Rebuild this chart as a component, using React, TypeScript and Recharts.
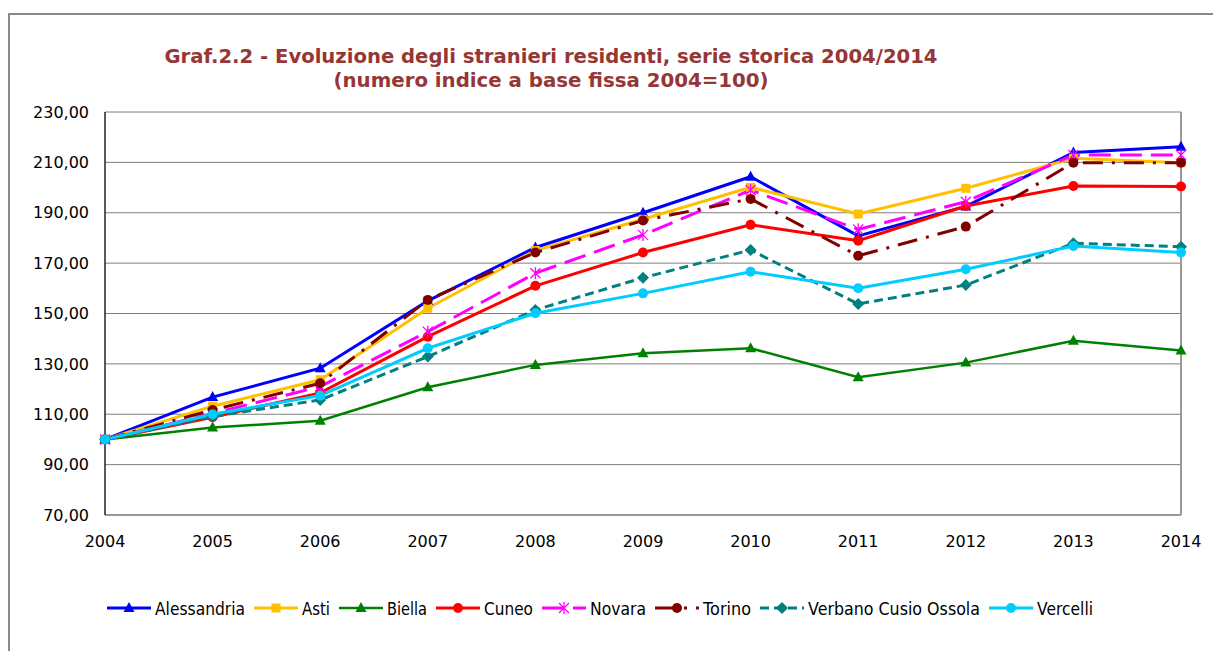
import React from 'react';
import { CartesianGrid, Line, LineChart, ReferenceLine, XAxis, YAxis } from 'recharts';

const years = ['2004', '2005', '2006', '2007', '2008', '2009', '2010', '2011', '2012', '2013', '2014'];

const alessandria = [100, 116.8, 128.3, 155.0, 176.2, 190.0, 204.3, 180.8, 192.5, 213.9, 216.2];
const asti = [100, 113.2, 123.7, 152.1, 175.0, 187.4, 200.1, 189.5, 199.7, 211.6, 209.9];
const biella = [100, 104.7, 107.4, 120.7, 129.6, 134.2, 136.2, 124.7, 130.5, 139.2, 135.3];
const cuneo = [100, 108.8, 118.5, 140.8, 161.0, 174.2, 185.2, 178.9, 192.7, 200.6, 200.4];
const novara = [100, 110.3, 121.0, 142.8, 166.0, 181.2, 199.0, 183.4, 194.4, 212.9, 212.9];
const torino = [100, 111.7, 122.3, 155.4, 174.2, 186.9, 195.5, 172.9, 184.5, 209.9, 209.9];
const verbano = [100, 109.1, 115.7, 132.9, 151.4, 164.2, 175.2, 153.8, 161.3, 177.9, 176.5];
const vercelli = [100, 110.0, 117.4, 136.2, 150.1, 158.0, 166.6, 160.0, 167.6, 176.8, 174.2];

const yTicks = [70, 90, 110, 130, 150, 170, 190, 210, 230];

const titleLines = [
  'Graf.2.2 - Evoluzione degli stranieri residenti, serie storica 2004/2014',
  '(numero indice a base fissa 2004=100)',
];

type Shape = 'triangle' | 'square' | 'circle' | 'diamond' | 'star';

interface SeriesStyle {
  key: string;
  name: string;
  values: number[];
  color: string;
  width: number;
  dash?: string;
  shape: Shape;
  legendWidth: number;
}

const series: SeriesStyle[] = [
  { key: 'alessandria', name: 'Alessandria', values: alessandria, color: '#0000FF', width: 3, shape: 'triangle', legendWidth: 90 },
  { key: 'asti', name: 'Asti', values: asti, color: '#FFC000', width: 3, shape: 'square', legendWidth: 28 },
  { key: 'biella', name: 'Biella', values: biella, color: '#008000', width: 2.5, shape: 'triangle', legendWidth: 40 },
  { key: 'cuneo', name: 'Cuneo', values: cuneo, color: '#FF0000', width: 3, shape: 'circle', legendWidth: 49 },
  { key: 'novara', name: 'Novara', values: novara, color: '#FF00FF', width: 3, dash: '22 9', shape: 'star', legendWidth: 56 },
  { key: 'torino', name: 'Torino', values: torino, color: '#800000', width: 3, dash: '20 9 3 9', shape: 'circle', legendWidth: 48 },
  { key: 'verbano', name: 'Verbano Cusio Ossola', values: verbano, color: '#008080', width: 3, dash: '9 5', shape: 'diamond', legendWidth: 172 },
  { key: 'vercelli', name: 'Vercelli', values: vercelli, color: '#00CCFF', width: 3, shape: 'circle', legendWidth: 56 },
];

const data = years.map((year, i) => {
  const row: Record<string, string | number> = { year };
  series.forEach((s) => {
    row[s.key] = s.values[i];
  });
  return row;
});

const marker = (shape: Shape, color: string, cx: number, cy: number, key?: string): React.ReactElement => {
  switch (shape) {
    case 'triangle':
      return <polygon key={key} points={`${cx},${cy - 6} ${cx - 5.5},${cy + 4} ${cx + 5.5},${cy + 4}`} fill={color} />;
    case 'square':
      return <rect key={key} x={cx - 4.5} y={cy - 4.5} width={9} height={9} fill={color} />;
    case 'diamond':
      return <polygon key={key} points={`${cx},${cy - 6} ${cx + 6},${cy} ${cx},${cy + 6} ${cx - 6},${cy}`} fill={color} />;
    case 'star':
      return (
        <g key={key} stroke={color} strokeWidth={1.3}>
          <line x1={cx - 5} y1={cy - 5} x2={cx + 5} y2={cy + 5} />
          <line x1={cx - 5} y1={cy + 5} x2={cx + 5} y2={cy - 5} />
          <line x1={cx} y1={cy - 6} x2={cx} y2={cy + 6} />
        </g>
      );
    default:
      return <circle key={key} cx={cx} cy={cy} r={5} fill={color} />;
  }
};

const fmt = (v: number) => v.toFixed(2).replace('.', ',');

const font = "'DejaVu Sans', Verdana, sans-serif";

// legend layout: icon, gap, label, gap
const legendStart = 99;
const iconW = 44;
const legendItems = (() => {
  let x = legendStart;
  return series.map((s) => {
    const item = { s, x };
    x += iconW + 4 + s.legendWidth + 9;
    return item;
  });
})();

const App = (): React.ReactElement => {
  return (
    <div style={{ position: 'relative', width: 1213, height: 643 }}>
      <div
        style={{
          position: 'absolute',
          left: 0,
          top: 5,
          width: 1213,
          height: 638,
          borderLeft: '2px solid #898989',
          borderTop: '2px solid #898989',
          boxSizing: 'border-box',
        }}
      />
      <div style={{ position: 'absolute', left: 0, top: 0 }}>
        <LineChart width={1213} height={643} data={data} margin={{ top: 104, right: 40, left: 0, bottom: 106 }}>
          <CartesianGrid vertical={false} stroke="#7f7f7f" strokeWidth={1} />
          <XAxis
            dataKey="year"
            height={30}
            axisLine={{ stroke: '#8c8c8c', strokeWidth: 1.5 }}
            tickLine={false}
            tickSize={6}
            tickMargin={15}
            interval={0}
            tick={{ fill: '#000', fontSize: 16, fontFamily: font }}
          />
          <YAxis
            width={97}
            domain={[70, 230]}
            ticks={yTicks}
            interval={0}
            tickFormatter={fmt}
            axisLine={{ stroke: '#000', strokeWidth: 1.3 }}
            tickLine={false}
            tickSize={6}
            tickMargin={10}
            tick={{ fill: '#000', fontSize: 16, fontFamily: font }}
          />
          <ReferenceLine x="2014" stroke="#9a9a9a" strokeWidth={2} />
          {series.map((s) => (
            <Line
              key={s.key}
              type="linear"
              dataKey={s.key}
              name={s.name}
              stroke={s.color}
              strokeWidth={s.width}
              strokeDasharray={s.dash}
              dot={(p: { cx: number; cy: number; index: number }) => marker(s.shape, s.color, p.cx, p.cy, `${s.key}-${p.index}`)}
              activeDot={false}
              isAnimationActive={false}
            />
          ))}
        </LineChart>
      </div>
      <svg width={1213} height={643} style={{ position: 'absolute', left: 0, top: 0, pointerEvents: 'none' }}>
        <text
          x={543}
          y={55}
          textAnchor="middle"
          fill="#953735"
          fontFamily={font}
          fontWeight="bold"
          fontSize={19}
          textLength={773}
          lengthAdjust="spacingAndGlyphs"
        >
          {titleLines[0]}
        </text>
        <text
          x={543}
          y={79}
          textAnchor="middle"
          fill="#953735"
          fontFamily={font}
          fontWeight="bold"
          fontSize={19}
          textLength={435}
          lengthAdjust="spacingAndGlyphs"
        >
          {titleLines[1]}
        </text>
        {legendItems.map(({ s, x }) => (
          <g key={s.key}>
            <line x1={x} y1={600} x2={x + iconW} y2={600} stroke={s.color} strokeWidth={s.width} strokeDasharray={s.dash} />
            {marker(s.shape, s.color, x + iconW / 2, 600)}
            <text
              x={x + iconW + 4}
              y={607}
              fill="#000"
              fontFamily={font}
              fontSize={17}
              textLength={s.legendWidth}
              lengthAdjust="spacingAndGlyphs"
            >
              {s.name}
            </text>
          </g>
        ))}
      </svg>
    </div>
  );
};

export default App;
